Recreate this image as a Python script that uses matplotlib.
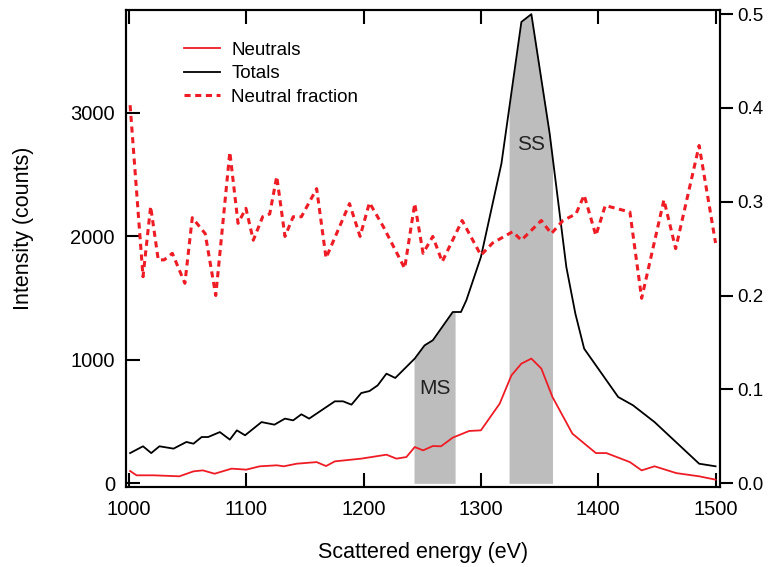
import numpy as np
import matplotlib
matplotlib.use("Agg")
import matplotlib.pyplot as plt
from matplotlib.lines import Line2D

plt.rcParams['font.family'] = ['Liberation Sans', 'DejaVu Sans']

# Totals (counts)
tot_e = [1001, 1012, 1019, 1026, 1038, 1049, 1055, 1062, 1067.5, 1077.5, 1086, 1092,
         1099, 1113, 1124, 1133, 1140, 1147, 1153.6, 1175.5, 1182.5, 1189.7, 1198,
         1205, 1212, 1219.5, 1227, 1243.6, 1252, 1259, 1276, 1283, 1287.6, 1300,
         1317.5, 1334.5, 1343, 1358.6, 1372.8, 1380.5, 1388, 1401, 1417, 1429.6,
         1448, 1486, 1500]
tot_c = [245, 300, 245, 300, 281, 335, 321, 375, 375, 415, 354, 429,
         389, 496, 475, 524, 510, 559, 524, 664, 664, 637, 731,
         747, 793, 888, 853, 1010, 1117, 1158, 1387, 1387, 1482, 1832,
         2589, 3735, 3798, 2832, 1752, 1374, 1090, 915, 699, 632,
         496, 159, 138]

# Neutrals (counts)
neu_e = [1001, 1006.5, 1021, 1043, 1055, 1063, 1073, 1087.5, 1100, 1111.6, 1126,
         1132, 1143, 1160, 1168, 1175.5, 1198, 1219.5, 1228, 1236.5, 1243.6,
         1250.7, 1259, 1266, 1276, 1290, 1300, 1316, 1326, 1334.5, 1343, 1351.5,
         1361, 1378, 1398, 1407, 1427, 1437, 1448, 1466.5, 1486, 1500]
neu_c = [100, 65, 65, 57, 97, 105, 78, 119, 111, 138, 146,
         138, 159, 172, 140, 178, 200, 232, 200, 213, 294,
         267, 302, 300, 370, 424, 429, 645, 874, 969, 1010, 929,
         699, 402, 245, 245, 172, 105, 138, 83, 57, 30]

# Neutral fraction (right axis)
frac_e = [1001, 1012, 1018.5, 1025, 1030, 1037, 1047.7, 1054, 1065, 1074, 1086,
          1093, 1099.7, 1106, 1114, 1120, 1126, 1133, 1140, 1147, 1160, 1168,
          1188, 1197, 1205, 1217, 1235, 1243.6, 1250.7, 1259, 1267, 1284, 1300,
          1310, 1327, 1334.5, 1351.5, 1360, 1370, 1381, 1388, 1398, 1406, 1427,
          1437, 1456, 1466, 1486, 1500]
frac_v = [0.403, 0.220, 0.295, 0.238, 0.238, 0.245, 0.213, 0.283, 0.266, 0.200, 0.353,
          0.277, 0.293, 0.259, 0.284, 0.287, 0.327, 0.263, 0.284, 0.284, 0.314, 0.240,
          0.298, 0.263, 0.299, 0.273, 0.229, 0.298, 0.245, 0.263, 0.236, 0.280, 0.243,
          0.256, 0.268, 0.259, 0.280, 0.266, 0.280, 0.287, 0.307, 0.264, 0.296, 0.289,
          0.197, 0.302, 0.250, 0.360, 0.256]

# shaded windows
bands = {'MS': (1243, 1278), 'SS': (1324, 1361)}
band_text_y = {'MS': 770, 'SS': 2745}

red = '#ee1c25'
dash = (0, (2.0, 1.5))

fig = plt.figure(figsize=(7.73, 5.67), dpi=100)
ax = fig.add_axes([0.163, 0.141, 0.768, 0.841])
ax2 = ax.twinx()

tot_e_a = np.array(tot_e)
tot_c_a = np.array(tot_c)
for name, (lo, hi) in bands.items():
    inside = (tot_e_a > lo) & (tot_e_a < hi)
    xs = np.concatenate([[lo], tot_e_a[inside], [hi]])
    ys = np.concatenate([[np.interp(lo, tot_e, tot_c)], tot_c_a[inside],
                         [np.interp(hi, tot_e, tot_c)]])
    ax.fill_between(xs, 0, ys, color='#bdbdbd', lw=0, zorder=1)
    ax.text((lo + hi) / 2, band_text_y[name], name, ha='center', va='center',
            fontsize=15, color='#222222', zorder=3)

ax.plot(neu_e, neu_c, color=red, lw=1.3, zorder=2)
ax.plot(tot_e, tot_c, color='black', lw=1.3, zorder=2)
ax2.plot(frac_e, frac_v, color=red, lw=2.2, linestyle=dash)

ax.set_xlim(997.5, 1503.5)
ax.set_ylim(-30, 3830)
ax2.set_ylim(-0.0043, 0.5043)

ax.set_xticks([1000, 1100, 1200, 1300, 1400, 1500])
ax.set_yticks([0, 1000, 2000, 3000])
ax2.set_yticks([0.0, 0.1, 0.2, 0.3, 0.4, 0.5])
ax2.set_yticklabels(['0.0', '0.1', '0.2', '0.3', '0.4', '0.5'])

ax.tick_params(axis='x', direction='in', length=10, width=1.5, top=True,
               labelsize=14.5, pad=9)
ax.tick_params(axis='y', direction='in', length=10, width=1.5, labelsize=14.5,
               pad=8)
ax2.tick_params(axis='y', direction='out', length=9, width=1.5, labelsize=13.5)
for a in (ax, ax2):
    for s in a.spines.values():
        s.set_linewidth(1.5)

ax.set_xlabel('Scattered energy (eV)', fontsize=15.5, labelpad=17)
ax.set_ylabel('Intensity (counts)', fontsize=15.5)
ax.yaxis.set_label_coords(-0.155, 0.543)

handles = [Line2D([], [], color=red, lw=1.3),
           Line2D([], [], color='black', lw=1.3),
           Line2D([], [], color=red, lw=2.2, linestyle=dash)]
ax2.legend(handles, ['Neutrals', 'Totals', 'Neutral fraction'], loc='upper left',
           bbox_to_anchor=(0.07, 0.97), frameon=False, fontsize=13.5,
           handlelength=1.9, labelspacing=0.35, handletextpad=0.6)

fig.savefig('out.png', dpi=100)
